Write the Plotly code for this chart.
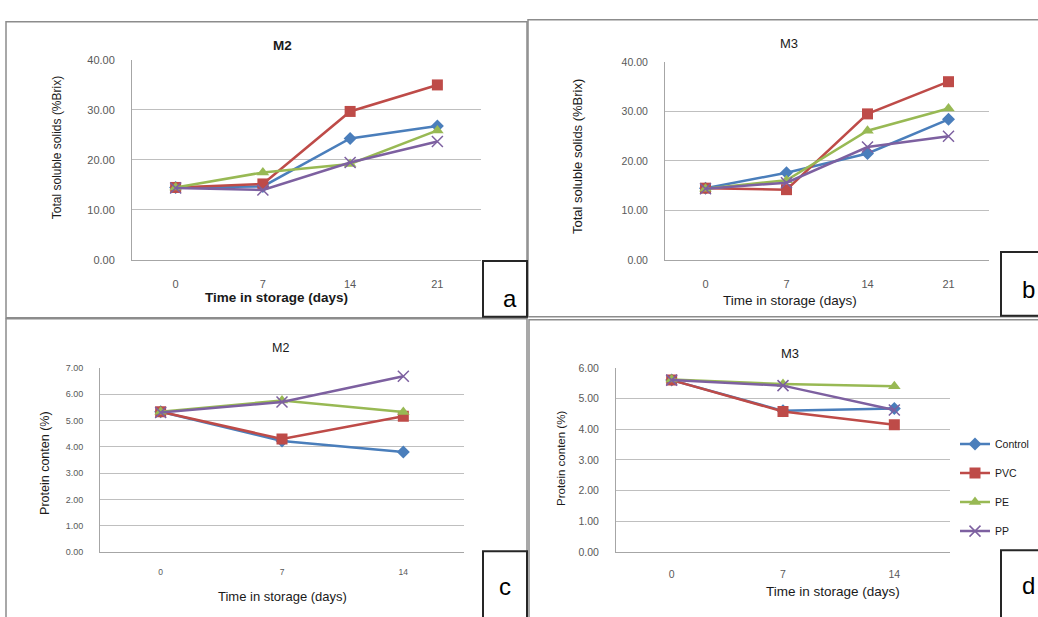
import plotly.graph_objects as go

W, H = 1038, 617

# ---------------- data ----------------
series = ["Control", "PVC", "PE", "PP"]

days_ab = ["0", "7", "14", "21"]
a_control = [14.5, 14.7, 24.3, 26.8]
a_pvc = [14.5, 15.2, 29.7, 35.0]
a_pe = [14.5, 17.5, 19.2, 25.9]
a_pp = [14.4, 14.0, 19.5, 23.7]

b_control = [14.5, 17.6, 21.5, 28.4]
b_pvc = [14.5, 14.2, 29.5, 36.0]
b_pe = [14.4, 16.1, 26.1, 30.6]
b_pp = [14.4, 15.6, 22.8, 25.0]

days_cd = ["0", "7", "14"]
c_control = [5.33, 4.22, 3.80]
c_pvc = [5.33, 4.30, 5.16]
c_pe = [5.33, 5.76, 5.32]
c_pp = [5.30, 5.70, 6.68]

d_control = [5.60, 4.60, 4.68]
d_pvc = [5.60, 4.58, 4.15]
d_pe = [5.62, 5.47, 5.40]
d_pp = [5.60, 5.42, 4.63]

# ---------------- styles ----------------
colors = {"Control": "#4A7EBB", "PVC": "#BE4B48", "PE": "#98B954", "PP": "#7D60A0"}
symbols = {"Control": "diamond", "PVC": "square", "PE": "triangle-up", "PP": "x-thin-open"}
msize = {"Control": 10, "PVC": 11, "PE": 11, "PP": 11}
FONT = "Liberation Sans, Arial, sans-serif"
GRID = "#BFBFBF"
TICK = "#595959"


def px(x):
    return x / W


def py(y):
    return 1 - y / H


fig = go.Figure()

panels = [
    ("a", days_ab, [a_control, a_pvc, a_pe, a_pp]),
    ("b", days_ab, [b_control, b_pvc, b_pe, b_pp]),
    ("c", days_cd, [c_control, c_pvc, c_pe, c_pp]),
    ("d", days_cd, [d_control, d_pvc, d_pe, d_pp]),
]
axis_ids = {"a": ("x", "y"), "b": ("x2", "y2"), "c": ("x3", "y3"), "d": ("x4", "y4")}

for key, cats, vals in panels:
    xa, ya = axis_ids[key]
    for name, v in zip(series, vals):
        is_x = name == "PP"
        fig.add_trace(go.Scatter(
            x=cats, y=v, name=name, xaxis=xa, yaxis=ya,
            mode="lines+markers",
            line=dict(color=colors[name], width=2.5),
            marker=dict(symbol=symbols[name], size=msize[name], color=colors[name],
                        line=dict(color=colors[name], width=1.5 if is_x else 0)),
            legendgroup=name, showlegend=(key == "d"),
        ))

# domains (pixel-derived)
dom = {
    "a": ([132, 481], [259, 55]),
    "b": ([665, 989], [259, 57]),
    "c": ([100, 464], [557, 369]),
    "d": ([616, 950], [557, 369]),
}
yinfo = {"a": (40, 10, 11), "b": (40, 10, 10.5), "c": (7, 1, 9), "d": (6, 1, 10.5)}
xfont = {"a": 11, "b": 11, "c": 8.5, "d": 10.5}

layout = {}
for i, key in enumerate(["a", "b", "c", "d"]):
    sfx = "" if i == 0 else str(i + 1)
    (x0, x1), (y0, y1) = dom[key]
    ncat = len(days_ab) if key in "ab" else len(days_cd)
    ymax, dt, fs = yinfo[key]
    layout["xaxis" + sfx] = dict(
        domain=[px(x0), px(x1)], anchor="y" + sfx, type="category",
        range=[-0.5, ncat - 0.5], showgrid=False, showline=True, linecolor="#A6A6A6",
        linewidth=1, ticks="", tickfont=dict(family=FONT, size=xfont[key], color=TICK),
        ticklabelstandoff=14 if key in "ab" else 12, fixedrange=True, zeroline=False,
    )
    layout["yaxis" + sfx] = dict(
        domain=[py(y0), py(y1)], anchor="x" + sfx, range=[0, ymax], dtick=dt,
        tickformat=".2f", showgrid=True, gridcolor=GRID, gridwidth=1,
        showline=True, linecolor="#A6A6A6", linewidth=1, zeroline=False, ticks="",
        tickfont=dict(family=FONT, size=fs, color=TICK), ticklabelstandoff=14,
        fixedrange=True,
    )
fig.update_layout(**layout)

# ---------------- panel frames and label boxes ----------------
shapes = []
frames = [(6, 16, 527, 318), (528, 14, 1045, 317), (6, 319, 527, 630), (529, 320, 1045, 630)]
for x0, y0, x1, y1 in frames:
    shapes.append(dict(type="rect", xref="paper", yref="paper", x0=px(x0), x1=px(x1),
                       y0=py(y1), y1=py(y0), line=dict(color="#8C8C8C", width=1.5),
                       fillcolor="rgba(0,0,0,0)", layer="below"))
boxes = [(483, 260, 527, 317), (1001, 251, 1045, 316), (483, 556, 527, 630), (1001, 555, 1045, 630)]
for x0, y0, x1, y1 in boxes:
    shapes.append(dict(type="rect", xref="paper", yref="paper", x0=px(x0), x1=px(x1),
                       y0=py(y1), y1=py(y0), line=dict(color="#262626", width=2),
                       fillcolor="white"))
fig.update_layout(shapes=shapes)

# ---------------- text ----------------
ann = []


def text(t, x, y, size, bold=False, angle=0, color="#1A1A1A"):
    ann.append(dict(text=f"<b>{t}</b>" if bold else t, x=px(x), y=py(y), xref="paper",
                    yref="paper", showarrow=False, textangle=angle,
                    font=dict(family=FONT, size=size, color=color),
                    xanchor="center", yanchor="middle"))


text("M2", 282, 40, 13.5, bold=True)
text("Time in storage (days)", 276, 297, 13.5, bold=True)
text("Total soluble solids (%Brix)", 57, 145, 12, angle=-90)

text("M3", 789, 38, 13)
text("Time in storage (days)", 790, 300, 13.5)
text("Total soluble solids (%Brix)", 577, 154, 13, angle=-90)

text("M2", 280, 349, 12.5)
text("Time in storage (days)", 282, 602, 13)
text("Protein conten (%)", 45, 466, 12.5, angle=-90)

text("M3", 790, 354, 13)
text("Time in storage (days)", 833, 597, 13.5)
text("Protein conten (%)", 561, 462, 11.5, angle=-90)

for t, x, y in [("a", 510, 298), ("b", 1028, 289), ("c", 505, 592), ("d", 1028, 591)]:
    text(t, x, y, 24, color="#000000")

fig.update_layout(annotations=ann)

fig.update_layout(
    width=W, height=H, margin=dict(l=0, r=0, t=0, b=0),
    paper_bgcolor="white", plot_bgcolor="white",
    showlegend=True,
    legend=dict(x=px(955), y=py(432), xanchor="left", yanchor="top",
                font=dict(family=FONT, size=10.5, color="#1A1A1A"),
                tracegroupgap=10, bgcolor="rgba(0,0,0,0)", borderwidth=0,
                itemclick=False, itemdoubleclick=False),
)

fig.write_html(
    "out.html",
    config={"displayModeBar": False},
    post_script="document.body.style.margin='0';document.body.style.overflow='hidden';",
)
